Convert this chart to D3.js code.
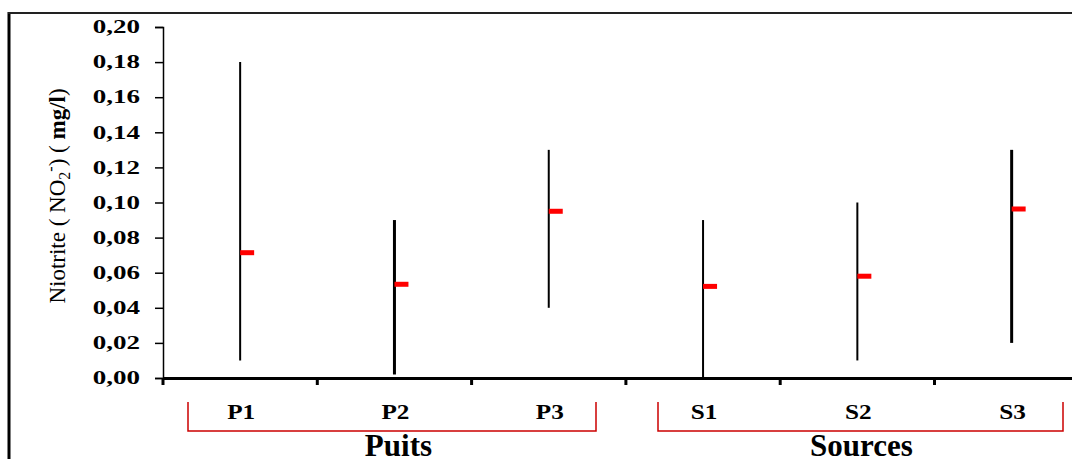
<!DOCTYPE html>
<html>
<head>
<meta charset="utf-8">
<script src="https://cdn.jsdelivr.net/npm/d3@7"></script>
<style>
  body { margin: 0; background: #fff; }
  svg { display: block; }
  text { font-family: "Liberation Serif", "Times New Roman", serif; }
</style>
</head>
<body>
<div id="chart"></div>
<script>
// data
var sites = ["P1", "P2", "P3", "S1", "S2", "S3"];
var minVals = [0.01, 0.002, 0.04, 0.0, 0.01, 0.02];
var maxVals = [0.18, 0.09, 0.13, 0.09, 0.10, 0.13];
var meanVals = [0.0714, 0.0534, 0.095, 0.0522, 0.058, 0.0963];
var barWidths = [2, 3, 2, 2, 2, 3];
var groupNames = ["Puits", "Sources"];
var groupMembers = [["P1", "P2", "P3"], ["S1", "S2", "S3"]];
var yTicks = [0, 0.02, 0.04, 0.06, 0.08, 0.10, 0.12, 0.14, 0.16, 0.18, 0.20];

var width = 1072, height = 459;
var margin = { top: 27, left: 163, bottom: 81 };

var svg = d3.select("#chart").append("svg")
  .attr("width", width)
  .attr("height", height);

// frame lines (left and top)
svg.append("line")
  .attr("x1", 9).attr("x2", 9).attr("y1", 12).attr("y2", height)
  .attr("stroke", "#000").attr("stroke-width", 3);
svg.append("line")
  .attr("x1", 8).attr("x2", width).attr("y1", 13).attr("y2", 13)
  .attr("stroke", "#222").attr("stroke-width", 2);

var y = d3.scaleLinear().domain([0, 0.2]).range([height - margin.bottom, margin.top]);

// band scale runs past the right edge like the original
var x = d3.scaleBand().domain(sites).range([margin.left, margin.left + 6 * 154.3]).padding(0);

var fmt = function (d) { return d3.format(".2f")(d).replace(".", ","); };

// y axis
var yAxis = svg.append("g")
  .attr("transform", "translate(" + margin.left + ",0)")
  .call(d3.axisLeft(y).tickValues(yTicks).tickFormat(fmt).tickSize(8));
yAxis.select(".domain").attr("stroke", "#000").attr("stroke-width", 1.5);
yAxis.selectAll(".tick line").attr("stroke", "#000").attr("stroke-width", 1.5);
// the original labels are wide, so stretch them sideways
yAxis.selectAll("text")
  .attr("x", 0)
  .attr("transform", "translate(-23,0) scale(1.5,1)")
  .style("font-size", "18px").style("font-weight", "bold")
  .style("font-family", "'Liberation Serif', serif").attr("fill", "#000");

// x axis
var xAxis = svg.append("g")
  .attr("transform", "translate(0," + y(0) + ")")
  .call(d3.axisBottom(x).tickSize(0).tickFormat(""));
xAxis.select(".domain").attr("stroke", "#000").attr("stroke-width", 3);

// category boundary ticks below the axis
var boundaries = sites.map(function (d) { return x(d); });
svg.selectAll(".xbound")
  .data(boundaries)
  .enter().append("line")
  .attr("class", "xbound")
  .attr("x1", function (d) { return d; })
  .attr("x2", function (d) { return d; })
  .attr("y1", y(0))
  .attr("y2", y(0) + 7)
  .attr("stroke", "#000")
  .attr("stroke-width", 3);

// range lines
svg.selectAll(".range")
  .data(sites)
  .enter().append("line")
  .attr("class", "range")
  .attr("x1", function (d) { return x(d) + x.bandwidth() / 2; })
  .attr("x2", function (d) { return x(d) + x.bandwidth() / 2; })
  .attr("y1", function (d, i) { return y(maxVals[i]); })
  .attr("y2", function (d, i) { return y(minVals[i]); })
  .attr("stroke", "#000")
  .attr("stroke-width", function (d, i) { return barWidths[i]; });

// mean markers
svg.selectAll(".mean")
  .data(sites)
  .enter().append("rect")
  .attr("class", "mean")
  .attr("x", function (d) { return x(d) + x.bandwidth() / 2; })
  .attr("y", function (d, i) { return y(meanVals[i]) - 2.5; })
  .attr("width", 14)
  .attr("height", 5)
  .attr("fill", "#ff0000");

// site labels
svg.selectAll(".site")
  .data(sites)
  .enter().append("text")
  .attr("class", "site")
  .attr("transform", function (d) {
    return "translate(" + (x(d) + x.bandwidth() / 2 + 1) + ",419) scale(1.2,1)";
  })
  .attr("text-anchor", "middle")
  .style("font-size", "21px")
  .style("font-weight", "bold")
  .text(function (d) { return d; });

// group brackets
var bracketX = [[188, 596], [658, 1063]];
groupNames.forEach(function (g, i) {
  var x0 = bracketX[i][0], x1 = bracketX[i][1];
  svg.append("path")
    .attr("d", "M" + x0 + ",402 V431 H" + x1 + " V402")
    .attr("fill", "none")
    .attr("stroke", "#cc0000")
    .attr("stroke-width", 1.5);
  var mids = groupMembers[i].map(function (s) { return x(s) + x.bandwidth() / 2; });
  svg.append("text")
    .attr("x", d3.mean(mids) + 4)
    .attr("y", 456)
    .attr("text-anchor", "middle")
    .style("font-size", "31px")
    .style("font-weight", "bold")
    .text(g);
});

// y axis title
var yt = svg.append("text")
  .attr("transform", "translate(65,196) rotate(-90)")
  .attr("text-anchor", "middle")
  .style("font-size", "23px");
yt.append("tspan").text("Niotrite ( NO");
yt.append("tspan").attr("dy", 5).style("font-size", "16px").text("2");
yt.append("tspan").attr("dy", -14).style("font-size", "16px").text("-");
yt.append("tspan").attr("dy", 9).text(") ( ");
yt.append("tspan").style("font-weight", "bold").text("mg/l");
yt.append("tspan").text(")");
</script>
</body>
</html>
